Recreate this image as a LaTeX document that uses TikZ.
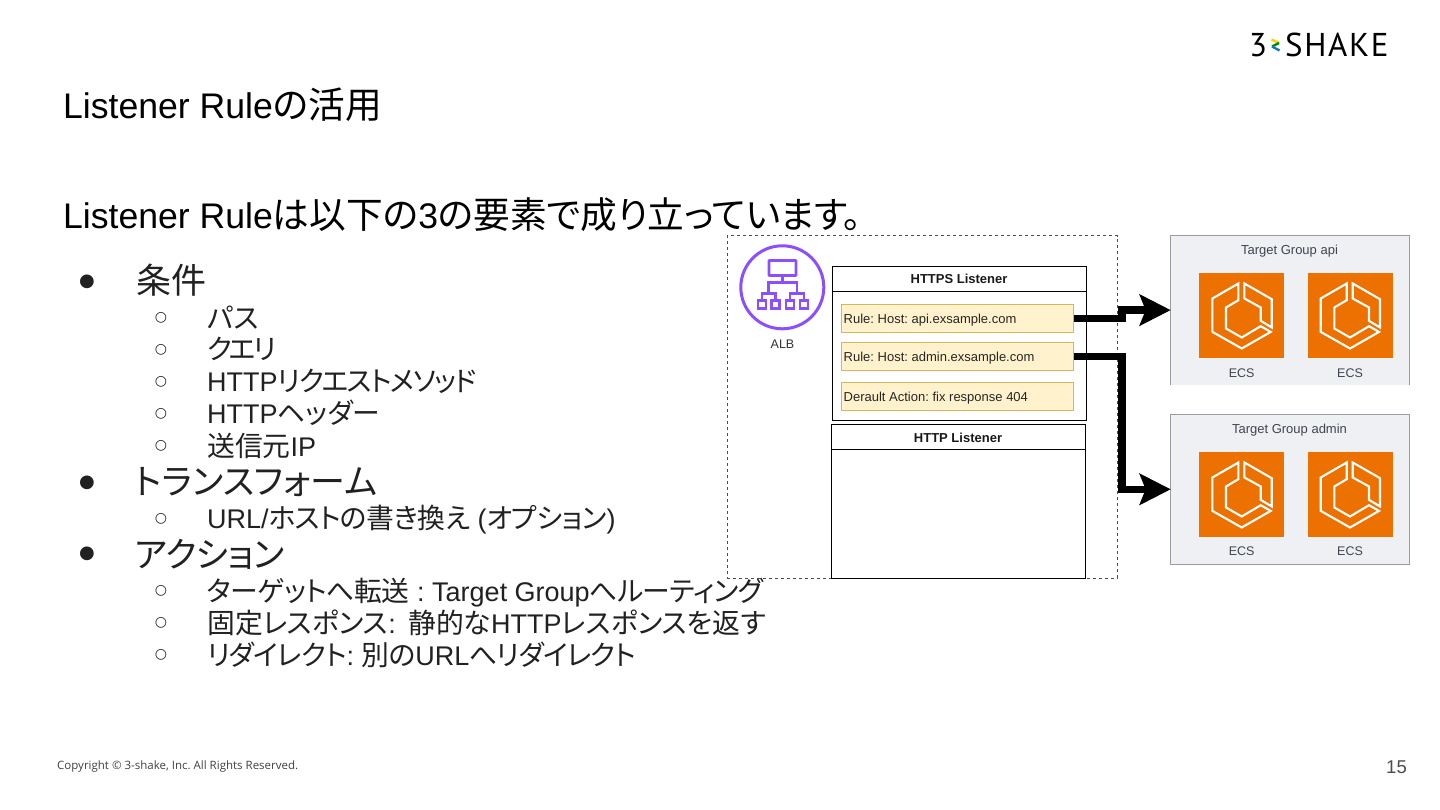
\documentclass[tikz,border=0pt]{standalone}
\usepackage{fontspec}
\usepackage{tikz}
\usetikzlibrary{arrows.meta}
\setmainfont{Liberation Sans}
\newfontfamily\cjkfont[RawFeature=+palt, Scale=1.03]{Noto Sans CJK JP}
\newfontfamily\footfont{Open Sans}
\newfontfamily\logofont[LetterSpace=5]{PT Sans}
\newfontfamily\dotfont{DejaVu Sans}
\newcommand{\jp}[1]{{\cjkfont #1}}
\newcommand{\jpt}[2]{{\cjkfont\addfontfeature{LetterSpace=#1}#2}}
\newcommand{\fs}[1]{\fontsize{#1}{#1}\selectfont}
\frenchspacing
\definecolor{bodytext}{HTML}{212121}
\definecolor{albpurple}{HTML}{8C4FFF}
\definecolor{ecsorange}{HTML}{ED7100}
\definecolor{rulefill}{HTML}{FFF2CC}
\definecolor{ruleline}{HTML}{D6B656}
\definecolor{groupfill}{HTML}{EFF0F3}
\definecolor{groupline}{HTML}{9A9CA3}
\definecolor{grouptext}{HTML}{3F4550}

\begin{document}
\begin{tikzpicture}[
    x=1pt, y=-1pt,
    head/.style={anchor=base west, inner sep=0pt, font=\fs{35.6}, text=black},
    lvlone/.style={anchor=base west, inner sep=0pt, font=\fs{34}, text=bodytext},
    lvltwo/.style={anchor=base west, inner sep=0pt, font=\fs{27}, text=bodytext},
    dotone/.style={anchor=center, inner sep=0pt, font=\fs{18}\dotfont, text=bodytext},
    dottwo/.style={anchor=center, inner sep=0pt, font=\fs{14}\dotfont, text=bodytext},
    rulebox/.style={draw=ruleline, fill=rulefill, line width=0.8pt, minimum width=232.7pt, minimum height=28pt, inner sep=0pt, outer sep=0pt},
    ruletext/.style={anchor=base west, inner sep=0pt, font=\fs{13}, text=black!85},
    listener/.style={draw, line width=1pt, inner sep=0pt, outer sep=0pt},
    listhead/.style={inner sep=0pt, font=\fs{13}\bfseries, text=black!90},
    group/.style={fill=groupfill, minimum width=238.6pt, minimum height=150pt, inner sep=0pt, outer sep=0pt},
    grouplabel/.style={inner sep=0pt, font=\fs{13}, text=grouptext},
    tile/.style={fill=ecsorange, minimum size=85pt, inner sep=0pt, outer sep=0pt},
    tilelabel/.style={inner sep=0pt, font=\fs{12.5}, text=grouptext},
    flow/.style={line width=7.6pt, -{Stealth[length=31pt, width=31pt, inset=6pt]}},
    albline/.style={albpurple, line width=2.8pt},
    albleaf/.style={draw=albpurple, line width=2.8pt, minimum size=8pt, inner sep=0pt},
    ecs/.pic={
        \draw[white, line width=2.1pt, line join=miter]
            (-3.3,-31.7) -- (-29.3,-16.7) -- (-29.3,16.7) -- (0,33.3) -- (29,16.7) -- (19,11)
            -- (0,22.3) -- (-15.7,13.3) -- (-15.7,-7.7) -- (-3.3,-15) -- cycle
            (2.7,-31.7) -- (30,-16) -- (30,12.3) -- (19,5.7) -- (19,-7.7) -- (2.7,-16.7) -- cycle;
    }
]
\useasboundingbox (0,0) rectangle (1440,810);

% logo
\node[anchor=base west, inner sep=0pt, font=\fs{33}\logofont] (logothree) at (1249,57) {3};
\node[anchor=base west, inner sep=0pt, font=\fs{33}\logofont] (logoname) at (1285,57) {SHAKE};
\draw[line width=2.4pt, color=yellow!70!orange] (1271.5,39.5) -- (1279,43);
\draw[line width=2.4pt, color=green!55!black] (1279,43) -- (1272,46.5);
\draw[line width=2.4pt, color=cyan!55!blue] (1272,46.5) -- (1279.5,50.5);

% title and lead sentence
\node[head] (title) at (63,119) {Listener Rule\jp{の活用}};
\node[head] (lead) at (63,229) {Listener Rule\jp{は以下の}3\jp{の要素で成り立っています。}};

% first level items
\node[lvlone] (cond) at (136,294) {\jp{条件}};
\node[lvlone] (trans) at (135,494) {\jp{トランスフォーム}};
\node[lvlone] (action) at (135,567) {\jpt{-2}{アクション}};

% second level items
\node[lvltwo] (path) at (207,328) {\jp{パス}};
\node[lvltwo] (query) at (207,359) {\jpt{-10}{クエリ}};
\node[lvltwo] (method) at (207,391) {HTTP\jpt{-6}{リクエストメソッド}};
\node[lvltwo] (header) at (207,423) {HTTP\jp{ヘッダー}};
\node[lvltwo] (srcip) at (207,456) {\jp{送信元}IP};
\node[lvltwo] (rewrite) at (207,528) {URL/\jpt{-2}{ホストの書き換え} (\jpt{-2}{オプション})};
\node[lvltwo] (forward) at (207,601) {\jpt{-1.7}{ターゲットへ転送} : Target Group\jpt{-1.7}{へルーティング}};
\node[lvltwo] (fixed) at (207,633) {\jp{固定レスポンス}:\hspace{5pt} \jp{静的な}HTTP\jp{レスポンスを返す}};
\node[lvltwo] (redirect) at (207,665) {\jpt{-3}{リダイレクト}: \jpt{-3}{別の}URL\jpt{-3}{へリダイレクト}};

% bullets
\foreach \y in {282,483,554}
    \node[dotone] (dot\y) at (87,\y) {●};
\foreach \y in {318,350,382,414,446,519,591,623,655}
    \node[dottwo] (ring\y) at (161,\y) {○};

% ALB frame
\node[draw=black!70, dashed, line width=0.7pt, minimum width=390pt, minimum height=342.5pt, inner sep=0pt] (alb) at (922,406.8) {};

% ALB icon
\node[circle, draw=albpurple, line width=3pt, minimum size=83pt, inner sep=0pt] (albicon) at (782.3,287.3) {};
\node[draw=albpurple, line width=2.8pt, rounded corners=0.6pt, minimum width=27pt, minimum height=15pt, inner sep=0pt] (albtop) at (782.5,268) {};
\foreach \n/\x in {a/762,b/775.3,c/790,d/804}
    \node[albleaf] (leaf\n) at (\x,304.8) {};
\coordinate (forkl) at (768.7,293.3);
\coordinate (forkr) at (797,293.3);
\coordinate (forktop) at (782.5,282.7);
\draw[albline] (albtop.south) -- (forktop);
\draw[albline] (forkl) |- (forktop) -| (forkr);
\draw[albline] (leafa.north) |- (forkl) -| (leafb.north);
\draw[albline] (leafc.north) |- (forkr) -| (leafd.north);
\node[inner sep=0pt, font=\fs{12.5}, text=black!80] (alblabel) at (782.5,344) {ALB};

% listeners
\node[listener, minimum width=254pt, minimum height=153.6pt] (https) at (959.7,343.5) {};
\draw[line width=0.8pt] (832.7,291.3) -- (1086.7,291.3);
\node[listhead] (httpslabel) at (959,279.3) {HTTPS Listener};
\node[listener, minimum width=254pt, minimum height=153.3pt] (http) at (958.3,501.4) {};
\draw[line width=0.8pt] (831.3,449.7) -- (1085.3,449.7);
\node[listhead] (httplabel) at (958,437.5) {HTTP Listener};

% rules
\node[rulebox] (ruleapi) at (957.3,318.3) {};
\node[rulebox] (ruleadmin) at (957.3,356.3) {};
\node[rulebox] (ruledefault) at (957.3,396.5) {};
\node[ruletext] (ruleapilabel) at (843.5,323.5) {Rule: Host: api.exsample.com};
\node[ruletext] (ruleadminlabel) at (843.5,361.5) {Rule: Host: admin.exsample.com};
\node[ruletext] (ruledefaultlabel) at (843.5,401.5) {Derault Action: fix response 404};

% target groups
\node[group] (tgapi) at (1290,310.1) {};
\draw[groupline, line width=0.7pt] (tgapi.south west) |- (tgapi.north east) -- (tgapi.south east);
\node[grouplabel] (tgapilabel) at (1289.5,251) {Target Group api};
\node[group, draw=groupline, line width=0.7pt] (tgadmin) at (1290,489.3) {};
\node[grouplabel] (tgadminlabel) at (1289.5,429.7) {Target Group admin};

% ecs tiles
\foreach \n/\x in {a/1241.7,b/1350} {
    \node[tile] (tileapi\n) at (\x,315.2) {};
    \pic at (\x,315.2) {ecs};
    \node[tilelabel] (ecsapi\n) at (\x,372.8) {ECS};
    \node[tile] (tileadmin\n) at (\x,494.2) {};
    \pic at (\x,494.2) {ecs};
    \node[tilelabel] (ecsadmin\n) at (\x,551.2) {ECS};
}

% connectors
\draw[flow] (ruleapi.east) -- ++(48.3,0) |- (tgapi.west);
\draw[flow] (ruleadmin.east) -- ++(48.3,0) |- (tgadmin.west);

% footer
\node[anchor=base west, inner sep=0pt, font=\fs{11.5}\footfont, text=black!75] (copyright) at (57,769) {Copyright © 3-shake, Inc. All Rights Reserved.};
\node[anchor=base west, inner sep=0pt, font=\fs{18.5}, text=black!70] (pageno) at (1386,773) {15};
\end{tikzpicture}
\end{document}
